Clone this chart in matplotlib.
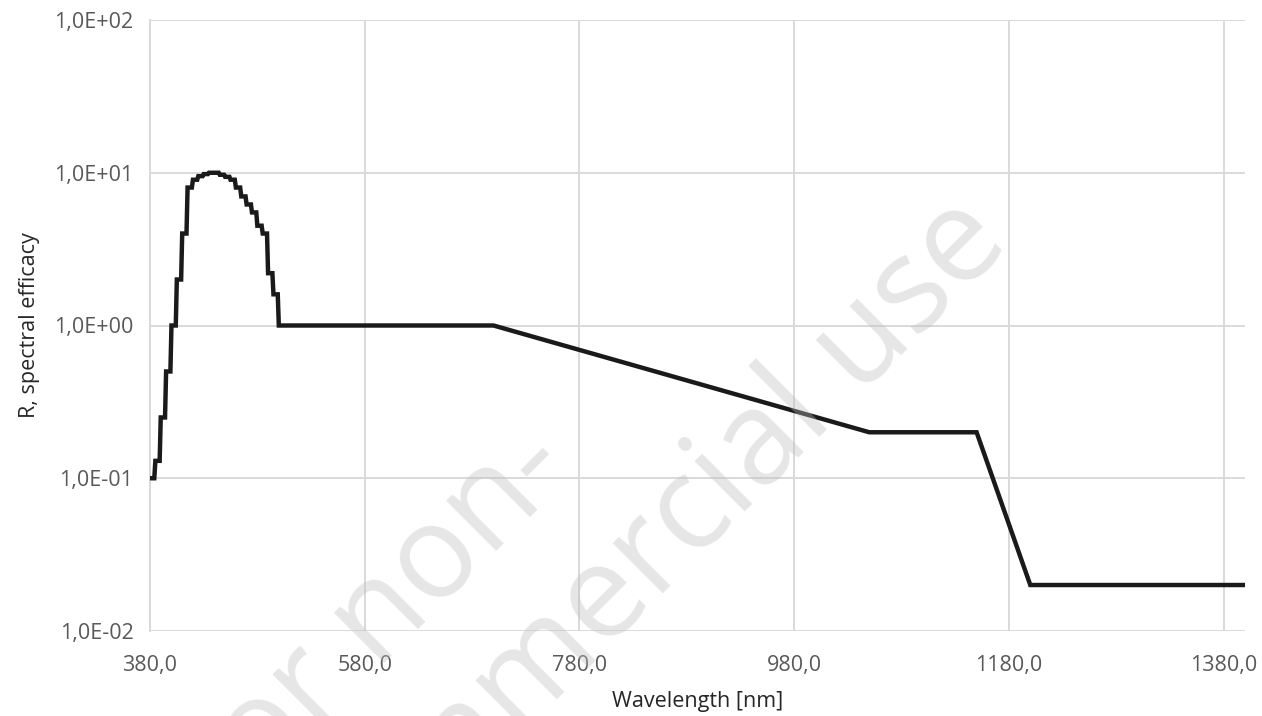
import numpy as np
import matplotlib
matplotlib.use("Agg")
import matplotlib.pyplot as plt
from matplotlib.ticker import FuncFormatter, FixedLocator

plt.rcParams['font.family'] = ['Open Sans', 'DejaVu Sans']

# R(lambda): 5 nm steps in the visible peak, then the break points of the tail
step_nm = [380, 385, 390, 395, 400, 405, 410, 415, 420, 425, 430, 435,
           440, 445, 450, 455, 460, 465, 470, 475, 480, 485, 490, 495]
step_r = [0.1, 0.13, 0.25, 0.5, 1.0, 2.0, 4.0, 8.0, 9.0, 9.5, 9.8, 10.0,
          10.0, 9.7, 9.4, 9.0, 8.0, 7.0, 6.2, 5.5, 4.5, 4.0, 2.2, 1.6]
tail_nm = [500, 700, 1050, 1150, 1200, 1400]
tail_r = [1.0, 1.0, 0.2, 0.2, 0.02, 0.02]

x_ticks = [380, 580, 780, 980, 1180, 1380]
y_ticks = [1e-2, 1e-1, 1e0, 1e1, 1e2]

# each step value holds from its own nm up to the next-but-one nm
wl = []
r = []
for w, v in zip(step_nm, step_r):
    wl += [w, w + 4]
    r += [v, v]
wl += tail_nm
r += tail_r

fig = plt.figure(figsize=(12.62, 7.16), dpi=100)
ax = fig.add_axes([150 / 1262, 85 / 716, 1095 / 1262, 611 / 716])

ax.plot(wl, r, color='#1a1a1a', linewidth=3.2, solid_joinstyle='miter', zorder=3)

ax.set_yscale('log')
ax.set_xlim(380, 1400)
ax.set_ylim(1e-2, 1e2)
ax.xaxis.set_major_locator(FixedLocator(x_ticks))
ax.yaxis.set_major_locator(FixedLocator(y_ticks))
ax.yaxis.set_minor_locator(FixedLocator([]))


def sci_fmt(v, pos):
    e = int(np.floor(np.log10(v) + 1e-9))
    m = v / 10 ** e
    return f"{m:.1f}E{e:+03d}".replace('.', ',')


ax.yaxis.set_major_formatter(FuncFormatter(sci_fmt))
ax.xaxis.set_major_formatter(FuncFormatter(lambda v, p: f"{v:.1f}".replace('.', ',')))

ax.grid(True, color='#d9d9d9', linewidth=1.4)
for s in ['top', 'right', 'bottom']:
    ax.spines[s].set_visible(False)
ax.spines['left'].set_color('#d9d9d9')
ax.spines['left'].set_linewidth(1.4)
ax.tick_params(length=0, labelsize=15.5, labelcolor='#595959')
ax.tick_params(axis='x', pad=17)
ax.tick_params(axis='y', pad=12)

ax.set_xlabel('Wavelength [nm]', fontsize=15.5, color='#262626', labelpad=11)
ax.set_ylabel('R, spectral efficacy', fontsize=15.5, color='#262626', labelpad=10)

# diagonal watermark over the plot
wm = dict(fontsize=94, color='#bdbdbd', alpha=0.38, rotation=45,
          rotation_mode='anchor', ha='left', va='baseline', zorder=10)
fig.text(212 / 1262, 1 - 835 / 716, 'For non-', **wm)
fig.text(333 / 1262, 1 - 923 / 716, 'commercial use', **wm)

fig.savefig('out.png', dpi=100)
